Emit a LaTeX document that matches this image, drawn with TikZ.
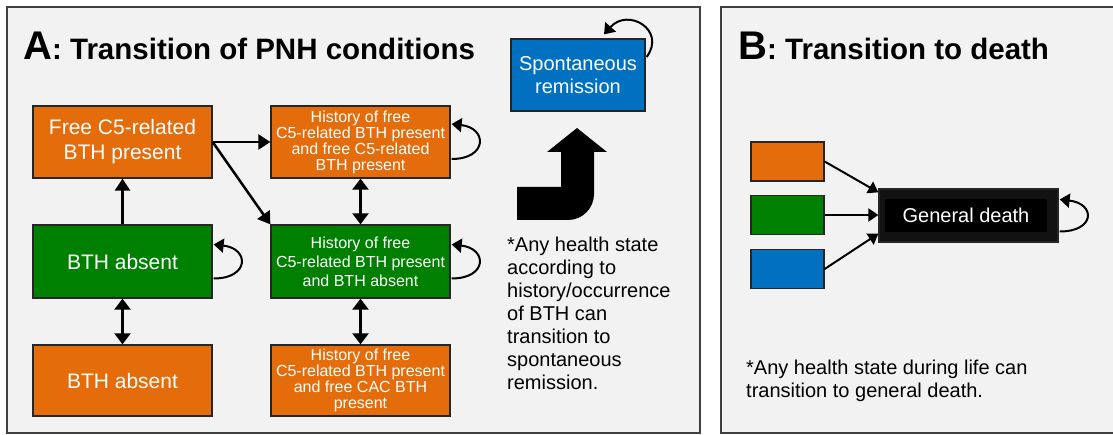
\documentclass[tikz,border=0pt]{standalone}
\usepackage{fontspec}
\setmainfont{Liberation Sans}
\usetikzlibrary{arrows.meta,calc}
\definecolor{orng}{HTML}{E46C0A}
\definecolor{grn}{HTML}{008000}
\definecolor{blu}{HTML}{0070C0}
\definecolor{pane}{HTML}{F2F2F2}

\begin{document}
\begin{tikzpicture}[x=1pt,y=-1pt,
 panel/.style={draw=black!75,line width=1.3pt,fill=pane},
 b/.style={draw=black!85,line width=1.3pt,align=center,text=white,inner sep=1pt,
 minimum width=179pt},
 big/.style={font=\fontsize{21}{25}\selectfont},
 sm/.style={font=\fontsize{16}{16}\selectfont},
 a/.style={-{Triangle[length=12pt,width=15pt]},line width=2.5pt},
 da/.style={{Triangle[length=11pt,width=16pt]}-{Triangle[length=11pt,width=16pt]},line width=2.5pt},
 lp/.style={-{Triangle[length=10pt,width=14pt]},line width=2pt},
 sa/.style={-{Triangle[length=10pt,width=13pt]},line width=2pt}]
\useasboundingbox (0,0) rectangle (1113,435);
\draw[panel] (7,7) rectangle (700,433);
\draw[panel] (721,7) rectangle (1118,433);
% panel A
\node[anchor=base west,inner sep=0] (ta) at (23,60) {\fontsize{40}{40}\selectfont\bfseries A\fontsize{29.5}{29.5}\selectfont: Transition of PNH conditions};
\node[b,big,fill=orng,minimum height=72] (fc) at (122.5,142) {Free C5-related\\BTH present};
\node[b,sm,fill=orng,minimum height=72] (hf) at (360.5,142) {History of free\\C5-related BTH present\\and free C5-related\\BTH present};
\node[b,big,fill=grn,minimum height=73] (ba) at (122.5,261.5) {BTH absent};
\node[b,fill=grn,minimum height=73,font=\fontsize{16}{19}\selectfont] (gh) at (360.5,261.5) {History of free\\C5-related BTH present\\and BTH absent};
\node[b,big,fill=orng,minimum height=71] (bo) at (122.5,380.5) {BTH absent};
\node[b,sm,fill=orng,minimum height=71] (hc) at (360.5,380.5) {History of free\\C5-related BTH present\\and free CAC BTH\\present};
\node[b,fill=blu,minimum width=134,minimum height=72,font=\fontsize{20}{23}\selectfont] (sr) at (578,75) {Spontaneous\\remission};
\fill (517,187) -- (561,187) -- (561,152) -- (547,152) -- (577,128) -- (607,152) -- (594,152)
 -- (594,194) .. controls (594,208.4) and (582.4,220) .. (568,220) -- (517,220) -- cycle;
\node[anchor=north west,inner sep=0,align=left,font=\fontsize{20}{23}\selectfont] (na) at (507,237) {*Any health state\\according to\\history/occurrence\\of BTH can\\transition to\\spontaneous\\remission.};
\draw[a] (fc.east) -- (hf.west);
\draw[a] (fc.east) -- (gh.north west);
\draw[a] (ba) -- (fc);
\draw[da] (hf) -- (gh);
\draw[da] (ba) -- (bo);
\draw[da] (gh) -- (hc);
\draw[lp] ($(hf.east)+(1,17)$) .. controls +(36,0) and +(36,4) .. ($(hf.east)+(1,-18)$);
\draw[lp] ($(ba.east)+(1,17)$) .. controls +(36,0) and +(36,4) .. ($(ba.east)+(1,-17)$);
\draw[lp] ($(gh.east)+(1,17)$) .. controls +(36,0) and +(36,4) .. ($(gh.east)+(1,-17)$);
\draw[lp] ($(sr.east)+(1,-18)$) .. controls +(20,-27) and +(24,-27) .. ($(sr.north)+(26,-4)$);
% panel B
\node[anchor=base west,inner sep=0] (tb) at (738,60) {\fontsize{40}{40}\selectfont\bfseries B\fontsize{29.5}{29.5}\selectfont: Transition to death};
\node[b,fill=orng,minimum width=73,minimum height=39] (ob) at (787.5,161.5) {};
\node[b,fill=grn,minimum width=73,minimum height=39] (gb) at (787.5,215) {};
\node[b,fill=blu,minimum width=73,minimum height=39] (bb) at (787.5,269) {};
\node[draw=black!85,fill=black!93,line width=1.3pt,minimum width=179,minimum height=53] (gd) at (968.5,215.5) {};
\node[fill=black,text=white,minimum width=162,minimum height=33,font=\fontsize{20}{23}\selectfont] (gdt) at (966,215.5) {General death};
\draw[sa] (ob.east) -- ([yshift=-4pt]gd.north west);
\draw[sa] (gb.east) -- (gb.east -| gd.west);
\draw[sa] (bb.east) -- ([yshift=9pt]gd.south west);
\draw[lp] ($(gd.east)+(1,16)$) .. controls +(36,0) and +(36,4) .. ($(gd.east)+(1,-16)$);
\node[anchor=north west,inner sep=0,align=left,font=\fontsize{20}{23}\selectfont] (nb) at (746,360) {*Any health state during life can\\transition to general death.};
\end{tikzpicture}
\end{document}
